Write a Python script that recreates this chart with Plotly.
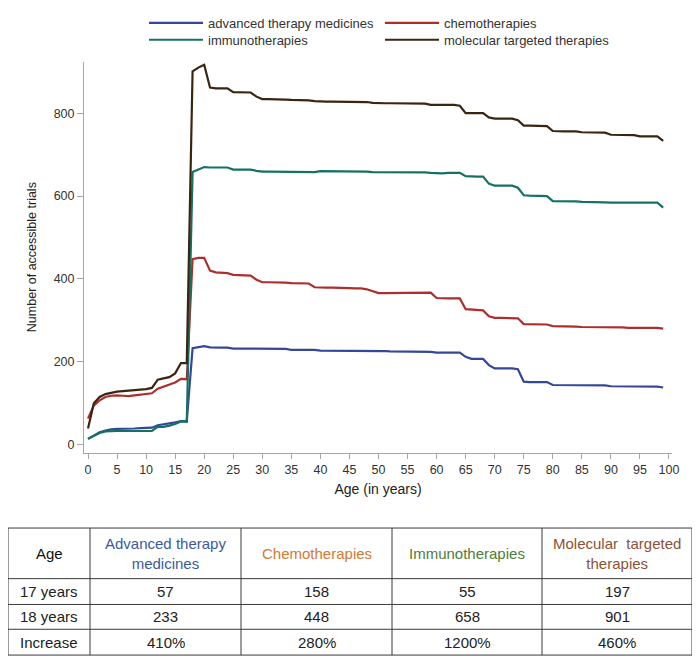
import plotly.graph_objects as go

# ---------------- data ----------------
ages = list(range(0, 100))

advanced = [14, 23, 30, 34, 37, 38, 38, 39, 39, 40,
            40, 41, 47, 49, 51, 54, 57, 57, 233, 236,
            238, 235, 234, 234, 234, 232, 232, 232, 232, 232,
            231, 231, 231, 231, 231, 229, 229, 229, 229, 229,
            227, 227, 227, 227, 227, 226, 226, 226, 226, 226,
            226, 226, 225, 225, 225, 224, 224, 224, 224, 224,
            222, 222, 222, 222, 222, 212, 207, 207, 207, 192,
            184, 184, 184, 184, 182, 152, 151, 151, 151, 151,
            144, 144, 144, 144, 144, 143, 143, 143, 143, 143,
            141, 141, 141, 141, 141, 140, 140, 140, 140, 138]

chemo = [63, 95, 107, 115, 118, 119, 118, 117, 119, 121,
         122, 124, 135, 140, 146, 150, 159, 158, 448, 451,
         451, 420, 416, 415, 414, 410, 409, 409, 408, 398,
         392, 392, 392, 391, 391, 390, 390, 390, 389, 380,
         379, 379, 379, 379, 379, 378, 377, 377, 375, 370,
         366, 366, 366, 366, 366, 366, 366, 366, 366, 367,
         354, 353, 353, 353, 353, 327, 326, 325, 324, 310,
         306, 306, 306, 306, 305, 291, 291, 291, 291, 290,
         286, 286, 285, 285, 285, 284, 284, 284, 283, 283,
         283, 283, 283, 282, 282, 282, 282, 282, 282, 280]

immuno = [14, 22, 28, 32, 33, 33, 33, 33, 33, 33,
          33, 33, 43, 43, 46, 50, 56, 55, 658, 665,
          670, 669, 669, 669, 669, 664, 664, 664, 664, 661,
          659, 659, 659, 659, 659, 658, 658, 658, 658, 658,
          660, 660, 660, 660, 660, 660, 660, 660, 659, 658,
          658, 658, 658, 658, 658, 657, 657, 657, 657, 656,
          655, 655, 656, 656, 656, 648, 647, 647, 647, 630,
          625, 625, 625, 625, 620, 602, 601, 601, 601, 600,
          588, 588, 588, 587, 587, 586, 586, 586, 586, 585,
          584, 584, 584, 584, 584, 584, 584, 584, 584, 572]

molecular = [39, 100, 115, 122, 125, 128, 129, 130, 131, 132,
             134, 137, 157, 160, 163, 172, 197, 197, 901, 910,
             917, 862, 860, 860, 860, 851, 851, 851, 850, 840,
             834, 834, 834, 833, 833, 832, 832, 832, 831, 829,
             828, 828, 828, 828, 828, 827, 827, 827, 827, 825,
             824, 824, 824, 824, 824, 824, 824, 824, 823, 820,
             820, 820, 820, 820, 818, 800, 800, 800, 800, 790,
             787, 787, 787, 787, 783, 770, 770, 770, 770, 769,
             757, 756, 756, 756, 756, 754, 754, 754, 754, 753,
             748, 748, 748, 748, 747, 744, 744, 744, 744, 733]

series_names = ["advanced therapy medicines", "chemotherapies",
                "immunotherapies", "molecular targeted therapies"]
series_values = [advanced, chemo, immuno, molecular]

table_header = ["Age", "Advanced therapy<br>medicines", "Chemotherapies",
                "Immunotherapies", "Molecular  targeted<br>therapies"]
table_rows = [
    ["17 years", "57", "158", "55", "197"],
    ["18 years", "233", "448", "658", "901"],
    ["Increase", "410%", "280%", "1200%", "460%"],
]

# ---------------- styling ----------------
FONT = "Liberation Sans, Arial, sans-serif"
series_colors = ["#34479a", "#ad2f2c", "#157263", "#3a2511"]
header_colors = ["#111111", "#3b5a9d", "#d17a33", "#4c7d3b", "#8c5234"]

# the page body has an 8px margin; the figure is sized to fit the window
OFF = 8
W, H = 700 - OFF, 664 - OFF
# plot area in window pixels (left, right, top, bottom)
PL, PR, PT, PB = 84, 672, 57, 451


def px_x(px):
    return (px - OFF) / W


def px_y(py):
    return 1 - (py - OFF) / H


fig = go.Figure()

legend_keys = ["legend", "legend2", "legend3", "legend4"]
legend_pos = [(149, 18), (385, 18), (149, 35), (385, 35)]

for name, vals, col, lk in zip(series_names, series_values, series_colors, legend_keys):
    fig.add_trace(go.Scatter(
        x=ages, y=vals, mode="lines", name=name,
        line=dict(color=col, width=2.2),
        legend=lk, hoverinfo="x+y+name",
    ))

legend_layouts = {}
for lk, (lx, ly) in zip(legend_keys, legend_pos):
    legend_layouts[lk] = dict(
        x=px_x(lx - 5), y=px_y(ly), xanchor="left", yanchor="middle",
        xref="paper", yref="paper",
        orientation="v", itemwidth=54, borderwidth=0,
        bgcolor="rgba(0,0,0,0)",
        font=dict(family=FONT, size=13, color="#333333"),
        tracegroupgap=0,
    )

fig.update_layout(
    template="none",
    width=W, height=H,
    margin=dict(l=0, r=0, t=0, b=0, pad=0),
    paper_bgcolor="white", plot_bgcolor="white",
    font=dict(family=FONT, color="#333333"),
    showlegend=True,
    **legend_layouts,
)

fig.update_xaxes(
    domain=[px_x(PL), px_x(PR)], automargin=False,
    range=[-0.69, 100.52], tick0=0, dtick=5,
    showgrid=False, zeroline=False,
    showline=True, linecolor="#a6a6a6", linewidth=1,
    ticks="outside", ticklen=5, tickcolor="#a6a6a6",
    tickfont=dict(family=FONT, size=12.5, color="#333333"),
    title=dict(text="Age (in years)", font=dict(family=FONT, size=14, color="#222222"), standoff=8),
)
fig.update_yaxes(
    domain=[px_y(PB), px_y(PT)], automargin=False,
    range=[-19.2, 924.5], tick0=0, dtick=200,
    showgrid=False, zeroline=False,
    showline=True, linecolor="#a6a6a6", linewidth=1,
    ticks="outside", ticklen=6, tickcolor="#a6a6a6",
    tickfont=dict(family=FONT, size=12.5, color="#333333"),
    title=dict(text="Number of accessible trials", font=dict(family=FONT, size=12.5, color="#222222"), standoff=14),
)

# ---------------- table ----------------
col_edges = [8, 90, 241, 392, 542, 692]
row_edges = [527, 578, 604, 629, 655]
border = "#3a3a3a"

shapes = []
for yy in row_edges:
    shapes.append(dict(type="line", xref="paper", yref="paper",
                       x0=px_x(col_edges[0]), x1=px_x(col_edges[-1]),
                       y0=px_y(yy), y1=px_y(yy),
                       line=dict(color=border, width=1)))
for xx in col_edges:
    shapes.append(dict(type="line", xref="paper", yref="paper",
                       x0=px_x(xx), x1=px_x(xx),
                       y0=px_y(row_edges[0]), y1=px_y(row_edges[-1]),
                       line=dict(color=border, width=1)))

annotations = []
for ci, txt in enumerate(table_header):
    cx = (col_edges[ci] + col_edges[ci + 1]) / 2
    cy = (row_edges[0] + row_edges[1]) / 2
    annotations.append(dict(
        x=px_x(cx), y=px_y(cy), xref="paper", yref="paper",
        text=txt, showarrow=False, xanchor="center", yanchor="middle",
        align="center",
        font=dict(family=FONT, size=15, color=header_colors[ci]),
    ))
for ri, row in enumerate(table_rows):
    cy = (row_edges[ri + 1] + row_edges[ri + 2]) / 2
    for ci, txt in enumerate(row):
        cx = (col_edges[ci] + col_edges[ci + 1]) / 2
        annotations.append(dict(
            x=px_x(cx), y=px_y(cy), xref="paper", yref="paper",
            text=txt, showarrow=False, xanchor="center", yanchor="middle",
            font=dict(family=FONT, size=15, color="#222222"),
        ))

fig.update_layout(shapes=shapes, annotations=annotations)

fig.write_html("out.html")
